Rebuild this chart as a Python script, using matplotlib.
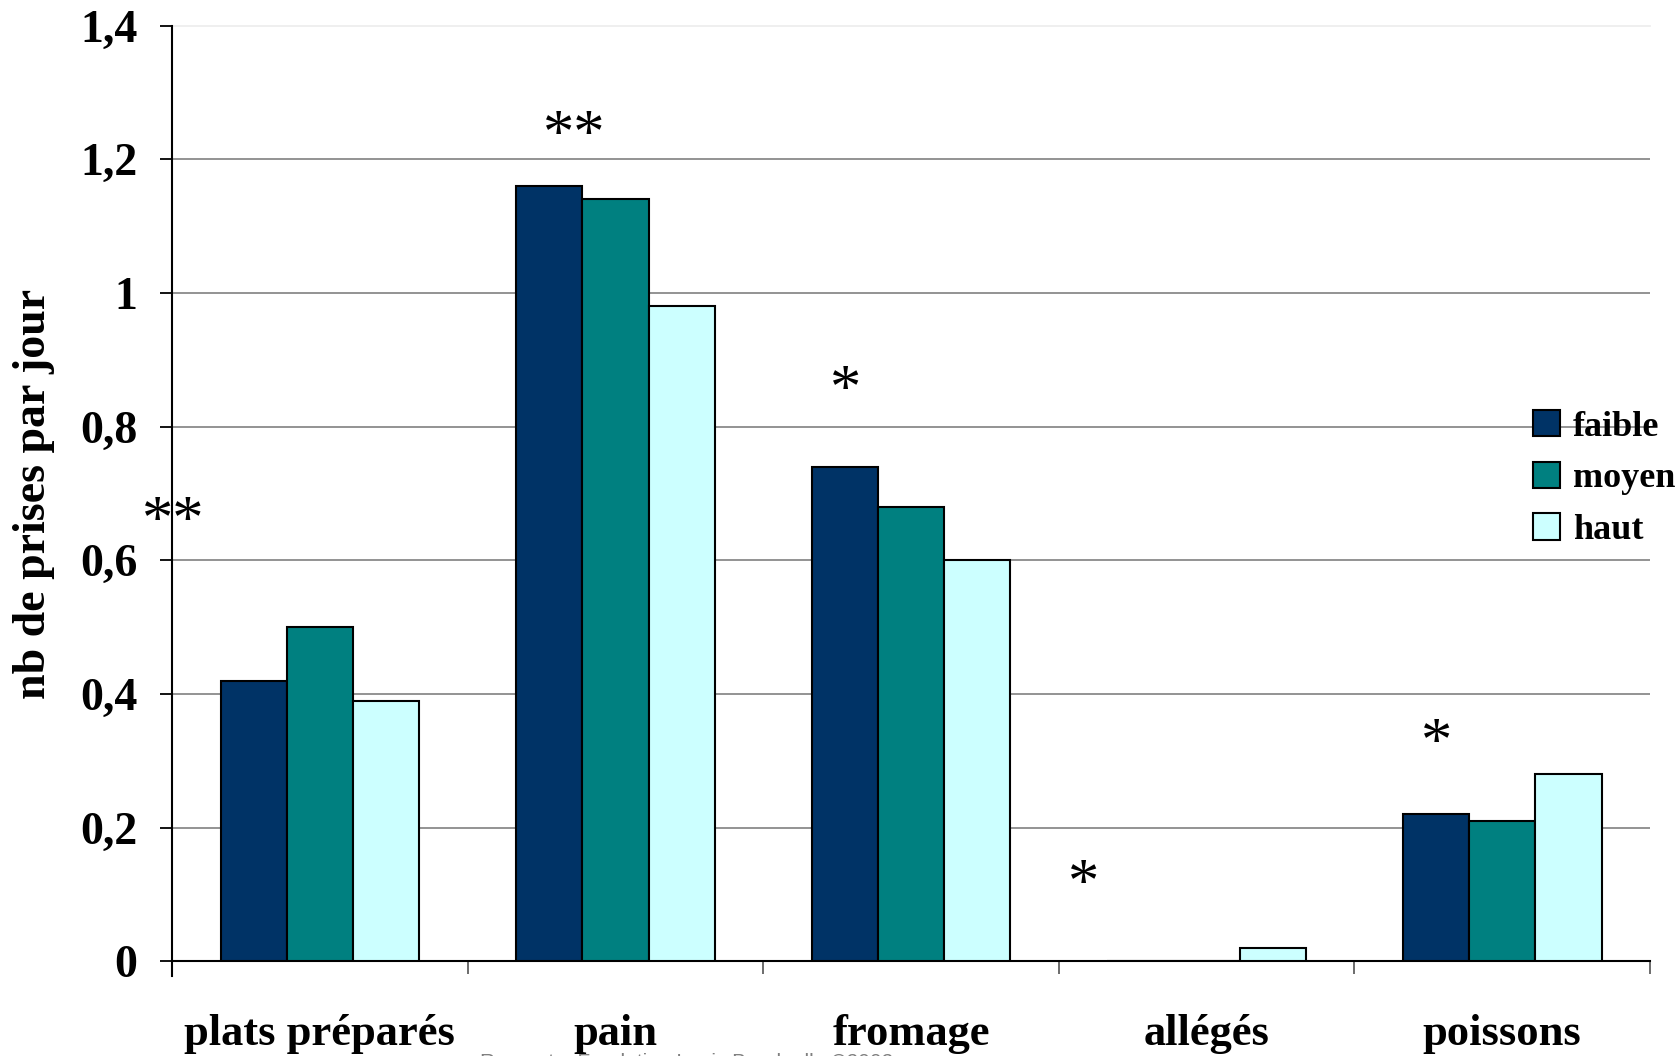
import matplotlib
matplotlib.use("Agg")
import matplotlib.pyplot as plt
import numpy as np

# ---- data ----
categories = ["plats préparés", "pain", "fromage", "allégés", "poissons"]
series_names = ["faible", "moyen", "haut"]
faible = [0.42, 1.16, 0.74, 0.0, 0.22]
moyen = [0.50, 1.14, 0.68, 0.0, 0.21]
haut = [0.39, 0.98, 0.60, 0.02, 0.28]
significance = ["**", "**", "*", "*", "*"]
y_ticks = [0, 0.2, 0.4, 0.6, 0.8, 1.0, 1.2, 1.4]
y_tick_labels = ["0", "0,2", "0,4", "0,6", "0,8", "1", "1,2", "1,4"]
y_label = "nb de prises par jour"
footer = "Rapport – Fondation Louis Bonduelle ©2002"

colors = ["#003366", "#008080", "#CCFFFF"]

plt.rcParams['font.family'] = ['Liberation Serif', 'DejaVu Serif']

fig = plt.figure(figsize=(16.77, 10.56), dpi=100)
ax = fig.add_axes([0.1026, 0.0895, 0.9839 - 0.1026, 0.9758 - 0.0895])

n = len(categories)
x = np.arange(n)
bw = 0.224
for i, (vals, name, c) in enumerate(zip([faible, moyen, haut], series_names, colors)):
    ax.bar(x + (i - 1) * bw, vals, width=bw, color=c, edgecolor="black",
           linewidth=1.5, label=name, zorder=3)

ax.set_xlim(-0.5, n - 0.5)
ax.set_ylim(0, 1.4)

# gridlines
for yv in y_ticks[1:-1]:
    ax.axhline(yv, color="#808080", linewidth=1.2, zorder=1)
ax.axhline(1.4, color="#ececec", linewidth=1.2, zorder=1, clip_on=False)

# spines
for s in ["top", "right"]:
    ax.spines[s].set_visible(False)
ax.spines["left"].set_linewidth(1.5)
ax.spines["bottom"].set_linewidth(1.5)
ax.spines["left"].set_bounds(-0.022, 1.4)

ax.set_yticks(y_ticks)
ax.set_yticklabels(y_tick_labels, fontsize=33, fontweight="bold")
ax.tick_params(axis="y", direction="out", length=9, width=1.3, pad=16)

# x: major ticks at boundaries, labels at centers via minor ticks
ax.set_xticks(np.arange(-0.5, n + 0.5, 1.0))
ax.set_xticklabels([])
ax.tick_params(axis="x", which="major", direction="out", length=9, width=1.3,
               color="#606060")
ax.set_xticks(x, minor=True)
ax.set_xticklabels(categories, minor=True, fontsize=32, fontweight="bold")
ax.tick_params(axis="x", which="minor", length=0, pad=38)

ax.set_ylabel(y_label, fontsize=33, fontweight="bold")
ax.yaxis.set_label_coords(-0.079, 0.5)

# significance markers
sig_pos = [(-0.496, 0.655), (0.859, 1.232), (1.778, 0.851), (2.584, 0.112), (3.777, 0.323)]
for s, (px, py) in zip(significance, sig_pos):
    ax.text(px, py, s, fontsize=45, ha="center", va="center", zorder=5)

leg = ax.legend(loc="upper left", bbox_to_anchor=(0.911, 0.605), frameon=False,
                prop={"size": 26, "weight": "bold"}, handlelength=0.75,
                handleheight=0.75, handletextpad=0.35, labelspacing=0.5,
                borderaxespad=0)
for h in leg.legend_handles:
    h.set_linewidth(1.5)

fig.text(0.286, -0.015, footer, fontsize=15, color="#808080",
         family=["Liberation Sans", "DejaVu Sans"], va="bottom")

fig.savefig("out.png", dpi=100)
